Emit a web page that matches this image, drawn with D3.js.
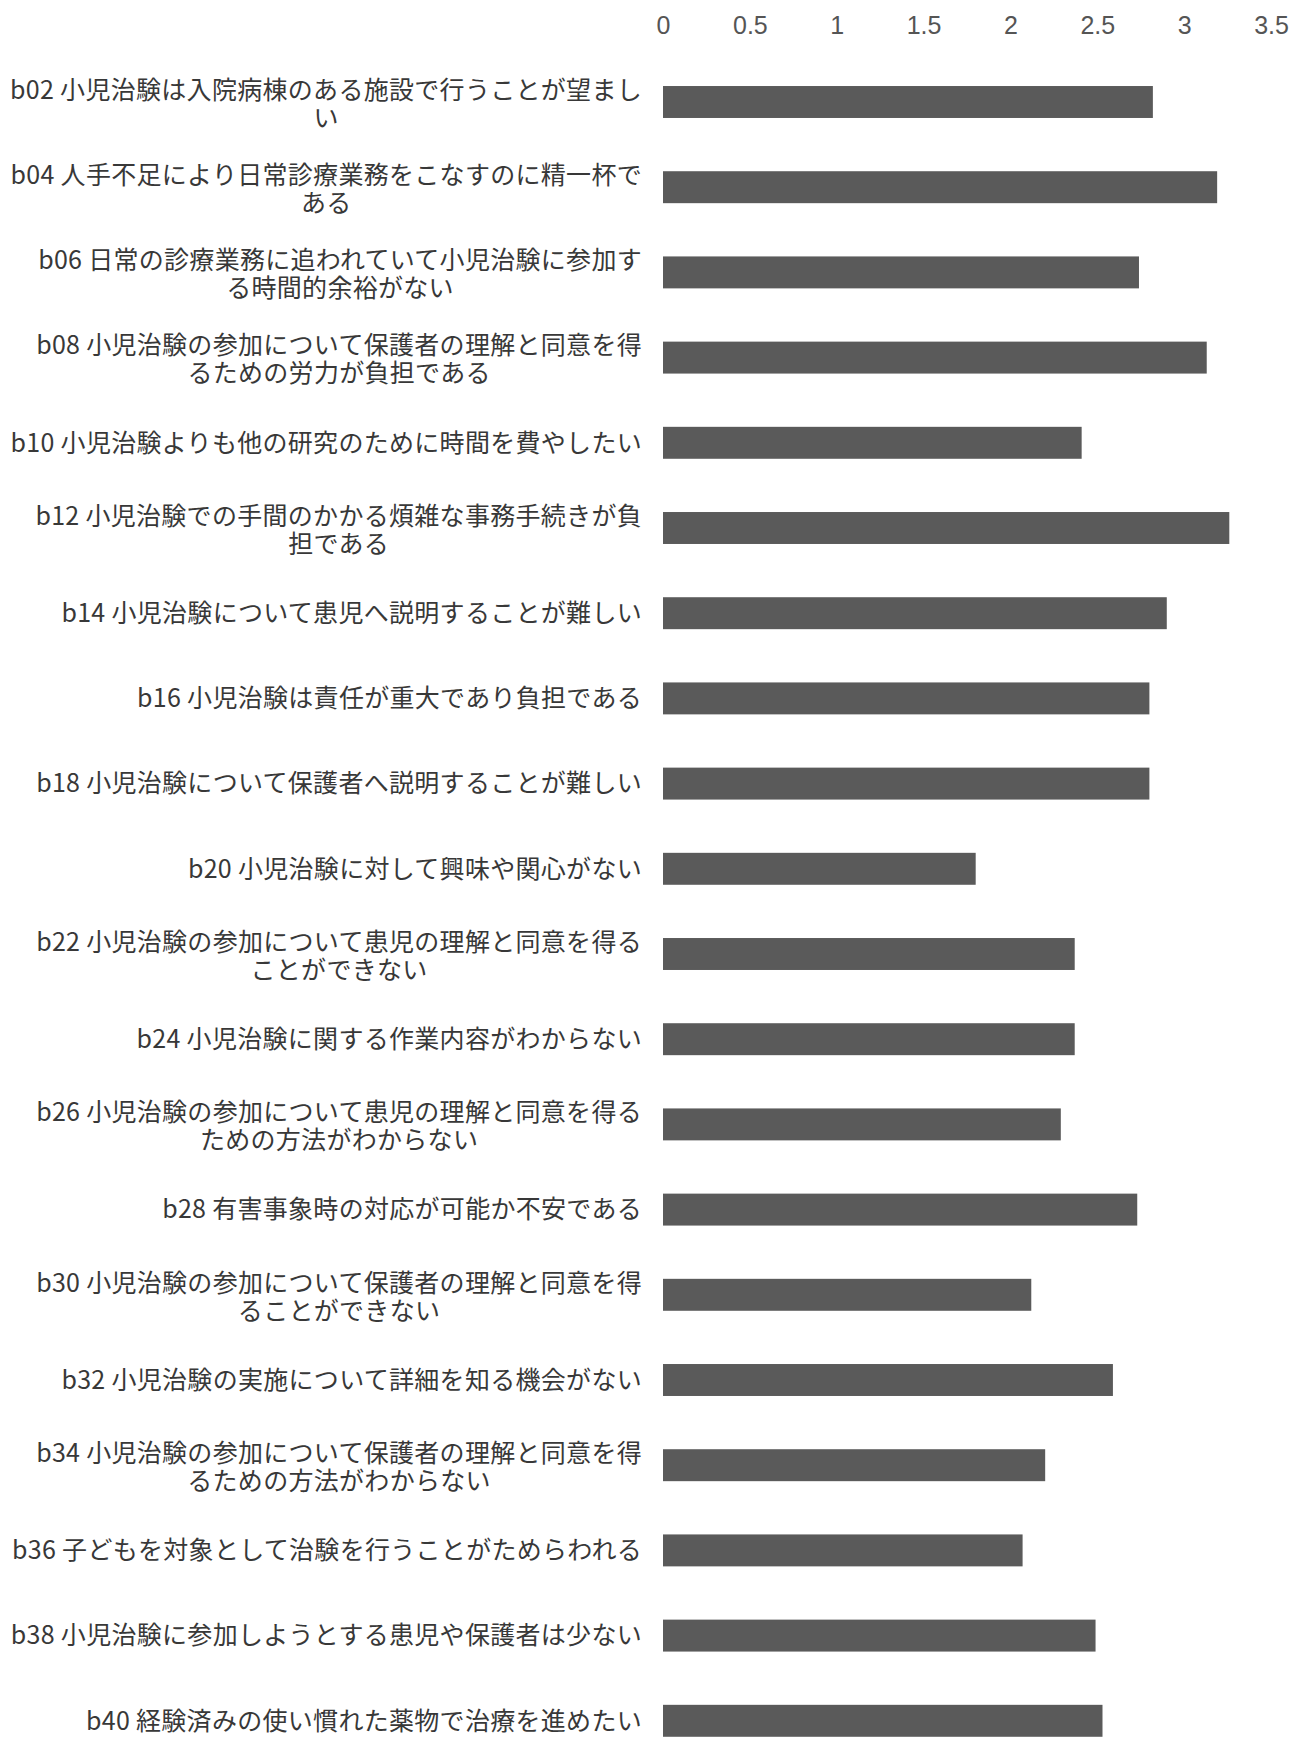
<!DOCTYPE html>
<html lang="ja">
<head>
<meta charset="utf-8">
<title>小児治験の阻害要因</title>
<script src="https://d3js.org/d3.v7.min.js"></script>
<style>
  body, html { margin: 0; padding: 0; background: #fff; }
  svg { display: block; }
</style>
</head>
<body>
<div id="chart"></div>
<script>
// item codes and their (wrapped) labels, top to bottom
var codes = ["b02","b04","b06","b08","b10","b12","b14","b16","b18","b20",
             "b22","b24","b26","b28","b30","b32","b34","b36","b38","b40"]
var labels = [
  ["b02 小児治験は入院病棟のある施設で行うことが望まし", "い"],
  ["b04 人手不足により日常診療業務をこなすのに精一杯で", "ある"],
  ["b06 日常の診療業務に追われていて小児治験に参加す", "る時間的余裕がない"],
  ["b08 小児治験の参加について保護者の理解と同意を得", "るための労力が負担である"],
  ["b10 小児治験よりも他の研究のために時間を費やしたい"],
  ["b12 小児治験での手間のかかる煩雑な事務手続きが負", "担である"],
  ["b14 小児治験について患児へ説明することが難しい"],
  ["b16 小児治験は責任が重大であり負担である"],
  ["b18 小児治験について保護者へ説明することが難しい"],
  ["b20 小児治験に対して興味や関心がない"],
  ["b22 小児治験の参加について患児の理解と同意を得る", "ことができない"],
  ["b24 小児治験に関する作業内容がわからない"],
  ["b26 小児治験の参加について患児の理解と同意を得る", "ための方法がわからない"],
  ["b28 有害事象時の対応が可能か不安である"],
  ["b30 小児治験の参加について保護者の理解と同意を得", "ることができない"],
  ["b32 小児治験の実施について詳細を知る機会がない"],
  ["b34 小児治験の参加について保護者の理解と同意を得", "るための方法がわからない"],
  ["b36 子どもを対象として治験を行うことがためらわれる"],
  ["b38 小児治験に参加しようとする患児や保護者は少ない"],
  ["b40 経験済みの使い慣れた薬物で治療を進めたい"]
]
var values = [2.82, 3.19, 2.74, 3.13, 2.41, 3.26, 2.90, 2.80, 2.80, 1.80,
              2.37, 2.37, 2.29, 2.73, 2.12, 2.59, 2.20, 2.07, 2.49, 2.53]
var ticks = [0, 0.5, 1, 1.5, 2, 2.5, 3, 3.5]

var W = 1295, H = 1741
var labelRight = 642
var step = 85.2

var svg = d3.select("#chart").append("svg")
  .attr("width", W)
  .attr("height", H)

var x = d3.scaleLinear()
  .domain([0, 3.5])
  .range([663, 1271])

var y = d3.scaleBand()
  .domain(codes)
  .range([102 - step / 2, 102 - step / 2 + step * codes.length])
  .paddingInner(0.625)
  .paddingOuter(0.3125)

// top axis, numbers only
var axis = svg.append("g")
  .attr("transform", "translate(0,25)")
  .call(d3.axisTop(x).tickValues(ticks).tickSize(0).tickPadding(0).tickFormat(d3.format("")))
axis.select(".domain").remove()
axis.selectAll("text")
  .attr("dy", "0.35em")
  .attr("fill", "#555")
  .style("font-family", "'Liberation Sans Narrow', 'Liberation Sans', sans-serif")
  .style("font-size", "25px")

// bars
svg.append("g").selectAll("rect")
  .data(codes)
  .enter().append("rect")
  .attr("x", x(0))
  .attr("y", d => y(d))
  .attr("width", (d, i) => x(values[i]) - x(0))
  .attr("height", y.bandwidth())
  .attr("fill", "#5a5a5a")

// labels: block right-aligned, lines centred on each other
var lineH = 28
codes.forEach((c, i) => {
  var lines = labels[i]
  var cy = y(c) + y.bandwidth() / 2 + (lines.length > 1 ? 2 : 0)
  var g = svg.append("g")
  var texts = lines.map((t, j) => g.append("text")
    .text(t)
    .attr("y", cy + (j - (lines.length - 1) / 2) * lineH)
    .attr("dy", "0.35em")
    .attr("fill", "#383838")
    .style("font-family", "'Liberation Sans Narrow', 'Noto Sans CJK JP', sans-serif")
    .style("font-size", "25px")
    .style("letter-spacing", "0.3px"))
  if (lines.length === 1) {
    texts[0].attr("x", labelRight).attr("text-anchor", "end")
  } else {
    var maxW = d3.max(texts, t => t.node().getComputedTextLength())
    texts.forEach(t => t.attr("x", labelRight - maxW / 2).attr("text-anchor", "middle"))
  }
})
</script>
</body>
</html>
